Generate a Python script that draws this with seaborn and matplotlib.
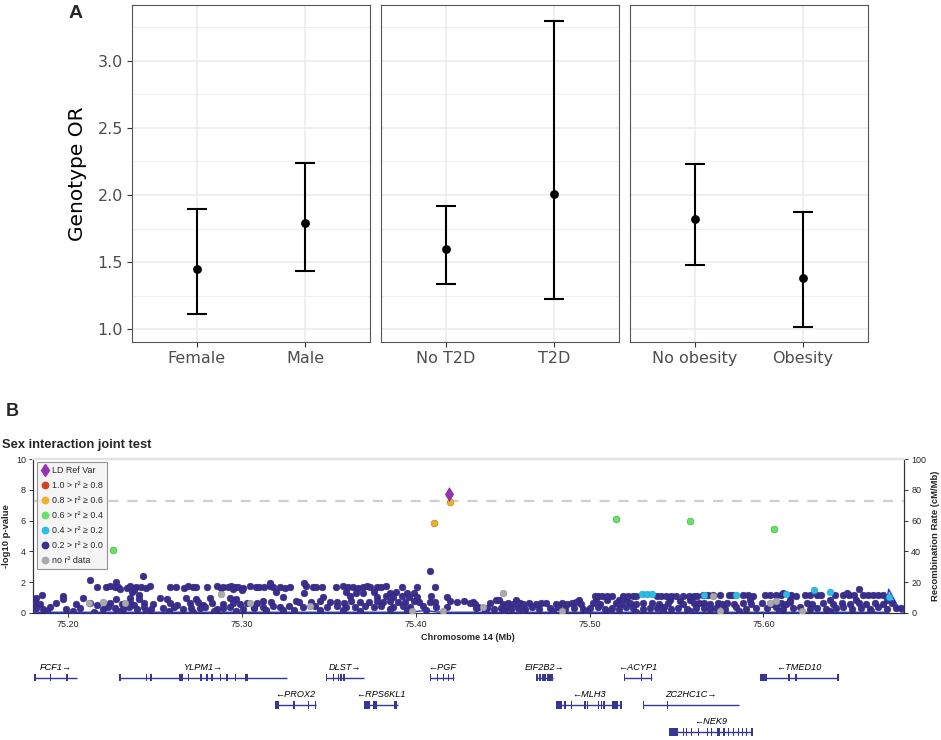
import matplotlib
matplotlib.use("Agg")
import matplotlib.pyplot as plt
import seaborn as sns
import pandas as pd
from matplotlib.lines import Line2D
from matplotlib.patches import Rectangle
from matplotlib.ticker import FormatStrFormatter, MultipleLocator

sns.set_theme(style="white")
plt.rcParams['font.family'] = ['DejaVu Sans']
HEL = ['Liberation Sans', 'DejaVu Sans']

# ---------------- Panel A data ----------------
categories = [["Female", "Male"], ["No T2D", "T2D"], ["No obesity", "Obesity"]]
or_est = [[1.45, 1.79], [1.60, 2.01], [1.82, 1.38]]
or_low = [[1.113, 1.435], [1.334, 1.225], [1.48, 1.017]]
or_high = [[1.895, 2.236], [1.92, 3.297], [2.234, 1.873]]
a_yticks = [1.0, 1.5, 2.0, 2.5, 3.0]

# ---------------- Panel B data ----------------
ld0_west = [
    (75.213, 2.13), (75.243, 2.41), (75.228, 1.98), (75.217, 1.70),
    (75.222, 1.68), (75.224, 1.72), (75.227, 1.65), (75.229, 1.70), (75.234, 1.62), (75.236, 1.73),
    (75.239, 1.66), (75.242, 1.70), (75.245, 1.64), (75.247, 1.71), (75.259, 1.67), (75.262, 1.69),
    (75.267, 1.64), (75.269, 1.72), (75.272, 1.66), (75.274, 1.70), (75.280, 1.68), (75.286, 1.73),
    (75.288, 1.64), (75.289, 1.70), (75.292, 1.67), (75.294, 1.72), (75.296, 1.65), (75.298, 1.69),
    (75.301, 1.63), (75.305, 1.71), (75.308, 1.66), (75.310, 1.70),
    (75.230, 1.52), (75.238, 1.48), (75.295, 1.55), (75.300, 1.50), (75.237, 1.37),
    (75.185, 1.15), (75.197, 1.12), (75.241, 1.18),
    (75.182, 0.95), (75.197, 0.90), (75.209, 0.97), (75.228, 0.92), (75.236, 0.98), (75.241, 0.88),
    (75.253, 0.94), (75.257, 0.91), (75.268, 0.96), (75.274, 0.89), (75.282, 0.93), (75.293, 0.97),
    (75.297, 0.90),
    (75.181, 0.62), (75.184, 0.55), (75.193, 0.66), (75.205, 0.58), (75.213, 0.64), (75.217, 0.52),
    (75.224, 0.63), (75.231, 0.57), (75.236, 0.68), (75.238, 0.50), (75.244, 0.61), (75.249, 0.55),
    (75.259, 0.65), (75.263, 0.53), (75.270, 0.60), (75.275, 0.67), (75.278, 0.51), (75.283, 0.62),
    (75.289, 0.56), (75.295, 0.64), (75.299, 0.54), (75.303, 0.60), (75.309, 0.66),
    (75.182, 0.30), (75.186, 0.22), (75.190, 0.35), (75.199, 0.27), (75.207, 0.32), (75.220, 0.24),
    (75.223, 0.38), (75.227, 0.29), (75.232, 0.21), (75.235, 0.34), (75.240, 0.26), (75.244, 0.40),
    (75.248, 0.23), (75.255, 0.31), (75.261, 0.36), (75.266, 0.25), (75.271, 0.33), (75.276, 0.28),
    (75.279, 0.39), (75.286, 0.22), (75.289, 0.30), (75.293, 0.37), (75.301, 0.26), (75.307, 0.32),
    (75.188, 0.08), (75.203, 0.12), (75.215, 0.06), (75.229, 0.11), (75.245, 0.09), (75.258, 0.13),
    (75.272, 0.07), (75.284, 0.10), (75.297, 0.12),
]
ld0_centre = [
    (75.408, 2.74), (75.411, 1.65),
    (75.313, 1.69), (75.316, 1.72), (75.318, 1.66), (75.322, 1.70), (75.325, 1.64), (75.328, 1.68),
    (75.337, 1.71), (75.341, 1.65), (75.343, 1.70), (75.346, 1.67), (75.354, 1.69), (75.358, 1.73),
    (75.361, 1.66), (75.364, 1.70), (75.367, 1.64), (75.370, 1.69), (75.372, 1.72), (75.374, 1.66),
    (75.378, 1.70), (75.380, 1.65), (75.383, 1.71), (75.392, 1.68), (75.401, 1.67),
    (75.316, 1.92), (75.336, 1.92),
    (75.320, 1.32), (75.336, 1.28), (75.360, 1.35), (75.366, 1.30), (75.370, 1.26), (75.376, 1.33),
    (75.385, 1.29), (75.389, 1.36), (75.395, 1.27), (75.399, 1.31),
    (75.324, 1.05), (75.347, 1.02), (75.362, 1.07), (75.378, 1.00), (75.383, 1.06), (75.387, 1.03),
    (75.392, 1.08), (75.396, 1.01), (75.401, 1.05), (75.409, 1.10), (75.418, 1.02),
    (75.312, 0.74), (75.317, 0.70), (75.331, 0.75), (75.333, 0.68), (75.340, 0.72), (75.345, 0.77),
    (75.351, 0.69), (75.355, 0.73), (75.359, 0.66), (75.363, 0.76), (75.368, 0.71), (75.373, 0.67),
    (75.378, 0.74), (75.381, 0.70), (75.385, 0.78), (75.390, 0.68), (75.394, 0.73), (75.399, 0.76),
    (75.402, 0.69), (75.408, 0.72), (75.411, 0.67), (75.420, 0.75), (75.424, 0.70), (75.428, 0.74),
    (75.433, 0.68),
    (75.307, 0.40), (75.312, 0.35), (75.318, 0.42), (75.322, 0.37), (75.327, 0.44), (75.335, 0.36),
    (75.342, 0.41), (75.349, 0.38), (75.355, 0.45), (75.360, 0.34), (75.365, 0.40), (75.371, 0.43),
    (75.376, 0.37), (75.380, 0.41), (75.387, 0.35), (75.393, 0.44), (75.397, 0.38), (75.404, 0.42),
    (75.412, 0.36), (75.418, 0.40), (75.436, 0.39),
    (75.314, 0.18), (75.324, 0.15), (75.330, 0.20), (75.345, 0.16), (75.358, 0.19), (75.368, 0.14),
    (75.385, 0.21), (75.395, 0.17), (75.406, 0.15),
]
ld0_east = [
    (75.446, 0.85), (75.448, 0.80), (75.458, 0.86), (75.494, 0.82), (75.504, 0.87), (75.510, 0.80),
    (75.517, 0.84), (75.521, 0.81), (75.546, 0.85), (75.552, 0.79), (75.558, 0.83),
    (75.503, 1.10), (75.505, 1.07), (75.507, 1.11), (75.510, 1.08), (75.513, 1.10), (75.519, 1.06),
    (75.522, 1.11), (75.525, 1.08), (75.527, 1.10), (75.539, 1.09), (75.541, 1.11), (75.544, 1.07),
    (75.547, 1.10), (75.550, 1.08), (75.554, 1.11), (75.557, 1.09), (75.560, 1.07), (75.562, 1.10),
    (75.431, 0.60), (75.434, 0.56), (75.443, 0.63), (75.450, 0.58), (75.453, 0.65), (75.456, 0.55),
    (75.460, 0.62), (75.462, 0.57), (75.465, 0.64), (75.469, 0.54), (75.472, 0.61), (75.475, 0.66),
    (75.481, 0.59), (75.484, 0.63), (75.487, 0.56), (75.490, 0.62), (75.492, 0.67), (75.495, 0.58),
    (75.502, 0.61), (75.506, 0.55), (75.515, 0.64), (75.518, 0.59), (75.523, 0.62), (75.527, 0.56),
    (75.531, 0.65), (75.536, 0.60), (75.540, 0.57), (75.545, 0.63), (75.554, 0.58), (75.560, 0.61),
    (75.563, 0.66),
    (75.435, 0.28), (75.441, 0.33), (75.445, 0.24), (75.449, 0.30), (75.452, 0.36), (75.455, 0.25),
    (75.459, 0.31), (75.463, 0.27), (75.467, 0.34), (75.471, 0.23), (75.477, 0.29), (75.482, 0.35),
    (75.486, 0.26), (75.491, 0.32), (75.496, 0.24), (75.500, 0.30), (75.505, 0.37), (75.509, 0.27),
    (75.513, 0.31), (75.517, 0.23), (75.521, 0.34), (75.525, 0.28), (75.531, 0.25), (75.535, 0.33),
    (75.539, 0.29), (75.543, 0.36), (75.547, 0.26), (75.551, 0.31), (75.556, 0.24), (75.561, 0.30),
    (75.440, 0.10), (75.451, 0.13), (75.462, 0.08), (75.479, 0.12), (75.498, 0.09), (75.512, 0.11),
    (75.527, 0.07), (75.542, 0.12), (75.558, 0.10),
]
ld0_far_east = [
    (75.655, 1.54),
    (75.565, 1.14), (75.568, 1.16), (75.571, 1.13), (75.575, 1.15), (75.580, 1.17), (75.582, 1.13),
    (75.588, 1.15), (75.591, 1.16), (75.594, 1.12), (75.601, 1.15), (75.604, 1.17), (75.607, 1.13),
    (75.610, 1.15), (75.616, 1.16), (75.619, 1.12), (75.624, 1.15), (75.627, 1.17), (75.631, 1.14),
    (75.633, 1.16), (75.641, 1.13), (75.646, 1.15), (75.649, 1.17), (75.652, 1.14), (75.657, 1.16),
    (75.660, 1.13), (75.663, 1.15), (75.666, 1.17), (75.669, 1.14),
    (75.611, 1.26), (75.648, 1.26),
    (75.592, 0.84), (75.615, 0.80), (75.638, 0.86), (75.653, 0.82), (75.671, 0.85),
    (75.566, 0.62), (75.569, 0.56), (75.574, 0.65), (75.576, 0.58), (75.579, 0.63), (75.583, 0.55),
    (75.588, 0.66), (75.593, 0.59), (75.599, 0.62), (75.605, 0.54), (75.610, 0.64), (75.613, 0.58),
    (75.615, 0.67), (75.625, 0.60), (75.628, 0.55), (75.634, 0.63), (75.640, 0.57), (75.645, 0.65),
    (75.650, 0.59), (75.655, 0.62), (75.659, 0.56), (75.664, 0.64), (75.669, 0.58), (75.674, 0.61),
    (75.566, 0.30), (75.569, 0.25), (75.573, 0.33), (75.578, 0.27), (75.584, 0.35), (75.590, 0.24),
    (75.596, 0.31), (75.602, 0.28), (75.607, 0.36), (75.611, 0.23), (75.617, 0.30), (75.621, 0.34),
    (75.627, 0.26), (75.631, 0.32), (75.636, 0.24), (75.642, 0.29), (75.646, 0.37), (75.651, 0.25),
    (75.656, 0.31), (75.661, 0.27), (75.666, 0.34), (75.671, 0.23), (75.676, 0.29), (75.679, 0.32),
    (75.586, 0.10), (75.609, 0.12), (75.638, 0.08), (75.662, 0.11),
]
no_r2_points = [
    (75.212, 0.61), (75.220, 0.72), (75.233, 0.61), (75.288, 1.20), (75.305, 0.65), (75.339, 0.41),
    (75.398, 0.13), (75.416, 0.08), (75.439, 0.34), (75.450, 1.30), (75.484, 0.13), (75.571, 1.09),
    (75.604, 0.61), (75.607, 0.78), (75.575, 0.13), (75.622, 0.13),
]
ld02_points = [
    (75.530, 1.19), (75.533, 1.19), (75.536, 1.19), (75.566, 1.15), (75.584, 1.15), (75.613, 1.19),
    (75.629, 1.48), (75.638, 1.32), (75.672, 1.04),
]
ld04_points = [(75.226, 4.11), (75.515, 6.11), (75.558, 5.96), (75.606, 5.48)]
ld06_points = [(75.4197, 7.22), (75.4106, 5.85)]
ref_variant = [(75.4193, 7.72)]
sig_line = 7.3

recomb_pos = [75.180, 75.396, 75.401, 75.405, 75.409, 75.414, 75.670, 75.672, 75.679, 75.681]
recomb_rate = [0.3, 0.3, 0.9, 1.3, 0.9, 0.3, 0.3, 15.3, 0.5, 0.4]

ld_labels = ["LD Ref Var", "1.0 > r\u00b2 \u2265 0.8", "0.8 > r\u00b2 \u2265 0.6", "0.6 > r\u00b2 \u2265 0.4",
             "0.4 > r\u00b2 \u2265 0.2", "0.2 > r\u00b2 \u2265 0.0", "no r\u00b2 data"]
ld_colors = ["#9b30b5", "#d8401f", "#f0b02c", "#66e266", "#2bbde6", "#3a2f8e", "#a9a9a9"]

# gene track
gene_names = ["FCF1", "YLPM1", "DLST", "PGF", "PROX2", "RPS6KL1", "EIF2B2", "ACYP1", "TMED10",
              "MLH3", "ZC2HC1C", "NEK9"]
gene_strand = ["+", "+", "+", "-", "-", "-", "+", "-", "-", "-", "+", "-"]
gene_start = [75.1807, 75.2296, 75.3482, 75.4082, 75.3193, 75.3704, 75.4695, 75.5198, 75.5982,
              75.4806, 75.5307, 75.5457]
gene_end = [75.2051, 75.3258, 75.3702, 75.4220, 75.3425, 75.3899, 75.4790, 75.5359, 75.6430,
            75.5183, 75.5859, 75.5936]
gene_row = [0, 0, 0, 0, 1, 1, 0, 0, 0, 1, 1, 2]
gene_exons = [
    [(75.1807, 75.1818), (75.1896, 75.1901), (75.1992, 75.1997)],
    [(75.2296, 75.2303), (75.2447, 75.2452), (75.2470, 75.2487), (75.2640, 75.2660), (75.2690, 75.2695),
     (75.2758, 75.2771), (75.2796, 75.2801), (75.2825, 75.2837), (75.2873, 75.2878), (75.2911, 75.2916),
     (75.2959, 75.2964), (75.3017, 75.3038)],
    [(75.3482, 75.3490), (75.3524, 75.3529), (75.3553, 75.3558), (75.3566, 75.3571), (75.3585, 75.3590)],
    [(75.4082, 75.4089), (75.4122, 75.4127), (75.4156, 75.4161), (75.4185, 75.4190), (75.4214, 75.4220)],
    [(75.3193, 75.3217), (75.3295, 75.3307), (75.3380, 75.3385), (75.3419, 75.3425)],
    [(75.3704, 75.3738), (75.3755, 75.3776), (75.3875, 75.3891)],
    [(75.4695, 75.4700), (75.4712, 75.4717), (75.4729, 75.4734), (75.4741, 75.4746), (75.4756, 75.4790)],
    [(75.5198, 75.5203), (75.5296, 75.5301), (75.5354, 75.5359)],
    [(75.5982, 75.6023), (75.6143, 75.6148), (75.6183, 75.6188), (75.6425, 75.6430)],
    [(75.4806, 75.4839), (75.4855, 75.4860), (75.4894, 75.4899), (75.4970, 75.4975), (75.4984, 75.4989),
     (75.5047, 75.5052), (75.5066, 75.5071), (75.5080, 75.5085), (75.5128, 75.5161), (75.5178, 75.5183)],
    [(75.5307, 75.5312), (75.5443, 75.5448)],
    [(75.5457, 75.5510), (75.5535, 75.5540), (75.5555, 75.5560), (75.5584, 75.5589), (75.5622, 75.5627),
     (75.5673, 75.5678), (75.5698, 75.5703), (75.5732, 75.5753), (75.5769, 75.5774), (75.5794, 75.5799),
     (75.5823, 75.5828), (75.5851, 75.5856), (75.5877, 75.5882), (75.5900, 75.5905), (75.5931, 75.5936)],
]
x_ticks_b = [75.20, 75.30, 75.40, 75.50, 75.60]

# ---------------- Figure ----------------
W, H = 941, 740
fig = plt.figure(figsize=(W / 100, H / 100), dpi=100)


def fx(px):
    return px / W


def fy(py):
    return 1 - py / H


# Panel A
a_lefts = [132, 381, 630]
a_w = 238
for i, left in enumerate(a_lefts):
    ax = fig.add_axes([fx(left), fy(342), a_w / W, (342 - 5) / H])
    xs = [0, 1]
    df = pd.DataFrame({"x": xs, "est": or_est[i]})
    ax.errorbar(xs, or_est[i],
                yerr=[[e - l for e, l in zip(or_est[i], or_low[i])],
                      [h - e for e, h in zip(or_est[i], or_high[i])]],
                fmt="none", ecolor="black", elinewidth=1.5, capsize=7.5, capthick=1.5, zorder=3)
    sns.scatterplot(data=df, x="x", y="est", ax=ax, color="black", s=40, edgecolor="black",
                    linewidth=0, zorder=4, legend=False)
    ax.set_xlim(-0.6, 1.6)
    ax.set_ylim(0.906, 3.414)
    ax.set_xticks(xs)
    ax.set_xticklabels(categories[i])
    ax.set_yticks(a_yticks)
    ax.yaxis.set_minor_locator(MultipleLocator(0.25))
    ax.yaxis.set_major_formatter(FormatStrFormatter("%.1f"))
    ax.grid(True, which="major", color="#ebebeb", linewidth=1.1)
    ax.grid(True, which="minor", axis="y", color="#ebebeb", linewidth=0.55)
    ax.set_axisbelow(True)
    ax.tick_params(axis="both", which="major", length=3.5, width=0.8, color="#333333",
                   labelsize=11.5, labelcolor="#4d4d4d", pad=3, bottom=True, left=(i == 0))
    ax.tick_params(axis="y", which="minor", length=0)
    if i > 0:
        ax.set_yticklabels([])
        ax.tick_params(axis="y", length=0)
    for sp in ax.spines.values():
        sp.set_color("#555555")
        sp.set_linewidth(0.8)
    ax.set_xlabel("")
    if i == 0:
        ax.set_ylabel("Genotype OR", fontsize=14.5, color="black")
        ax.yaxis.set_label_coords(-0.19, 0.5)
    else:
        ax.set_ylabel("")

fig.text(fx(76), fy(14), "A", fontsize=14, fontweight="bold", ha="center", va="center", family=HEL)

# Panel B: main locus plot
axb = fig.add_axes([fx(33), fy(612.7), (904.3 - 33) / W, 153.4 / H])
axb.set_xlim(75.180, 75.681)
axb.set_ylim(0, 10)
axb.axhline(sig_line, color="#cfcfcf", linewidth=1.6, linestyle=(0, (4.5, 4)), zorder=1)

axr = axb.twinx()
axr.set_ylim(0, 100)
axr.plot(recomb_pos, recomb_rate, color="#1f2ff0", linewidth=1.0, zorder=2)
axb.set_zorder(axr.get_zorder() + 1)
axb.patch.set_visible(False)


def pts(lst):
    return pd.DataFrame(lst, columns=["pos", "logp"])


dark = pd.concat([pts(ld0_west), pts(ld0_centre), pts(ld0_east), pts(ld0_far_east)])
sns.scatterplot(data=dark, x="pos", y="logp", ax=axb, color=ld_colors[5], s=24,
                edgecolor="#2a2170", linewidth=0.3, zorder=3, legend=False)
sns.scatterplot(data=pts(no_r2_points), x="pos", y="logp", ax=axb, color=ld_colors[6], s=24,
                edgecolor="#8a8a8a", linewidth=0.3, zorder=4, legend=False)
sns.scatterplot(data=pts(ld02_points), x="pos", y="logp", ax=axb, color=ld_colors[4], s=24,
                edgecolor="#1d8fb0", linewidth=0.3, zorder=5, legend=False)
sns.scatterplot(data=pts(ld04_points), x="pos", y="logp", ax=axb, color=ld_colors[3], s=24,
                edgecolor="#3aa83a", linewidth=0.4, zorder=6, legend=False)
sns.scatterplot(data=pts(ld06_points), x="pos", y="logp", ax=axb, color=ld_colors[2], s=24,
                edgecolor="#b07a10", linewidth=0.4, zorder=7, legend=False)
sns.scatterplot(data=pts(ref_variant), x="pos", y="logp", ax=axb, color=ld_colors[0], s=48,
                marker="d", edgecolor="#6a1a80", linewidth=0.4, zorder=8, legend=False)

axb.set_xticks(x_ticks_b)
axb.xaxis.set_major_formatter(FormatStrFormatter("%.2f"))
axb.set_yticks([0, 2, 4, 6, 8, 10])
axr.set_yticks([0, 20, 40, 60, 80, 100])
for a in (axb, axr):
    a.tick_params(axis="both", length=3, width=0.7, color="#333333", labelsize=6.5, pad=2)
    for lab in a.get_xticklabels() + a.get_yticklabels():
        lab.set_family(HEL)
axb.tick_params(axis="x", bottom=True)
axb.tick_params(axis="y", left=True)
axr.tick_params(axis="y", right=True)

for a in (axb, axr):
    a.spines["top"].set_color("#e3e3e3")
    a.spines["top"].set_linewidth(1.6)
    a.spines["left"].set_color("#333333")
    a.spines["right"].set_color("#333333")
    a.spines["bottom"].set_color("#333333")
    for s in ("left", "right", "bottom"):
        a.spines[s].set_linewidth(0.8)

axb.set_xlabel("Chromosome 14 (Mb)", fontsize=6.6, fontweight="bold", family=HEL)
axb.xaxis.set_label_coords(0.499, -0.132)
axb.set_ylabel("-log10 p-value", fontsize=6.8, fontweight="bold", family=HEL)
axb.yaxis.set_label_coords(-0.025, 0.5)
axr.set_ylabel("Recombination Rate (cM/Mb)", fontsize=6.8, fontweight="bold", family=HEL)
axr.yaxis.set_label_coords(1.031, 0.5)

# legend
handles = [Line2D([], [], marker="d", linestyle="none", markersize=6.5, markerfacecolor=ld_colors[0],
                  markeredgecolor=ld_colors[0])]
for c in ld_colors[1:]:
    handles.append(Line2D([], [], marker="o", linestyle="none", markersize=4.6, markerfacecolor=c,
                          markeredgecolor=c))
leg = axb.legend(handles, ld_labels, loc="upper left", bbox_to_anchor=(fx(37), fy(462)),
                 bbox_transform=fig.transFigure, borderaxespad=0, frameon=True, fancybox=False,
                 facecolor="#f3f3f3", edgecolor="#7a7a7a", prop={"family": HEL, "size": 6.4},
                 handlelength=0.7, handletextpad=0.45, labelspacing=0.66, borderpad=0.5)
leg.get_frame().set_linewidth(0.8)
leg.set_zorder(20)

fig.text(fx(12), fy(412), "B", fontsize=13, fontweight="bold", ha="center", va="center", family=HEL)
fig.text(fx(2), fy(445), "Sex interaction joint test", fontsize=9.3, fontweight="bold", ha="left",
         va="center", family=HEL)

# gene track
axg = fig.add_axes([fx(33), 0, (904.3 - 33) / W, 90 / H])
axg.set_xlim(75.180, 75.681)
axg.set_ylim(2.295, -1.02)
axg.axis("off")
gene_col = "#363696"
for name, strand, s, e, r, exons in zip(gene_names, gene_strand, gene_start, gene_end, gene_row, gene_exons):
    axg.plot([s, e], [r, r], color=gene_col, linewidth=1.0, solid_capstyle="butt")
    for (xs0, xs1) in exons:
        w = max(xs1 - xs0, 0.0008)
        axg.add_patch(Rectangle((xs0, r - 0.14), w, 0.28, facecolor=gene_col, edgecolor="none"))
    label = name + "\u2192" if strand == "+" else "\u2190" + name
    axg.text((s + e) / 2, r - 0.37, label, fontsize=6.6, style="italic", ha="center", va="center",
             family=HEL, color="black")

fig.savefig("out.png", dpi=100)
